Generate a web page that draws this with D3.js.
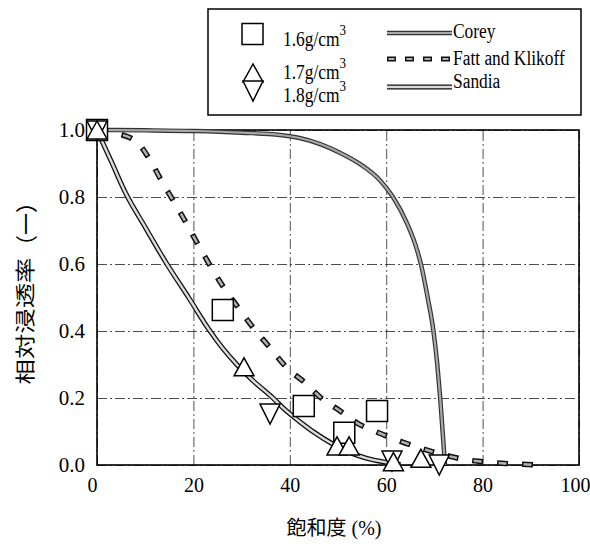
<!DOCTYPE html>
<html>
<head>
<meta charset="utf-8">
<script src="https://cdn.jsdelivr.net/npm/d3@7"></script>
<style>
  body { margin: 0; background: #fff; }
  svg { display: block; }
</style>
</head>
<body>
<div id="chart"></div>
<script>
const width = 590
const height = 546

// tick values
const xTicks = [0, 20, 40, 60, 80, 100]
const yTicks = [0, 0.2, 0.4, 0.6, 0.8, 1.0]

// measured points, [saturation %, relative permeability]
const rho16 = [[0, 1], [26.1, 0.463], [42.9, 0.176], [51.3, 0.096], [58.1, 0.161]]
const rho17 = [[0, 1], [30.5, 0.293], [49.8, 0.057], [52.3, 0.057], [61.5, 0.01], [67.2, 0.02]]
const rho18 = [[0, 1], [35.9, 0.155], [61.2, 0.015], [71, 0.003]]

// model curves
const corey = [[0, 1], [10, 0.999], [20, 0.997], [30, 0.992], [38, 0.985], [42, 0.976], [46.3, 0.958],
  [50.4, 0.932], [54.6, 0.898], [58.7, 0.85], [61.4, 0.8], [64.3, 0.722], [66, 0.66], [67.2, 0.6],
  [68.6, 0.5], [69.8, 0.4], [70.6, 0.3], [71.2, 0.2], [71.7, 0.1], [72.2, 0]]
const fatt = [[0, 1], [4, 0.99], [8.3, 0.964], [11.4, 0.9], [13.7, 0.84], [16.2, 0.78], [18.6, 0.72],
  [21, 0.657], [23.4, 0.597], [26.1, 0.534], [29.3, 0.47], [32.4, 0.41], [35.9, 0.35], [39.4, 0.29],
  [43.2, 0.245], [46.5, 0.2], [50.6, 0.16], [54, 0.125], [58.3, 0.097], [62, 0.076], [65.5, 0.058],
  [69.5, 0.04], [73.5, 0.025], [76.8, 0.015], [80, 0.01], [84, 0.005], [87.3, 0.003], [91.3, 0]]
const sandia = [[0, 1], [3, 0.905], [6, 0.81], [10, 0.71], [14.5, 0.6], [19, 0.5], [23.2, 0.405],
  [26, 0.35], [29, 0.3], [32.5, 0.25], [36.5, 0.2], [39, 0.165], [42, 0.13], [45, 0.098], [49, 0.062],
  [52.5, 0.037], [56, 0.02], [60, 0.008], [63, 0.001]]

const densityLabels = ["1.6g/cm", "1.7g/cm", "1.8g/cm"]
const modelLabels = ["Corey", "Fatt and Klikoff", "Sandia"]

const svg = d3.select("#chart").append("svg")
  .attr("width", width)
  .attr("height", height)

const x = d3.scaleLinear().domain([0, 100]).range([97, 579])
const y = d3.scaleLinear().domain([0, 1]).range([465, 130])

const serif = "'Liberation Serif', 'Times New Roman', serif"
const gothic = "'Noto Sans CJK JP', 'Noto Sans', sans-serif"

// grid + tick labels
const gx = svg.append("g")
  .attr("transform", `translate(0,${y(0)})`)
  .call(d3.axisBottom(x).tickValues(xTicks).tickSize(-(y(0) - y(1))).tickPadding(13).tickFormat(d3.format("d")))
gx.attr("font-family", serif)
gx.select(".domain").remove()
gx.selectAll("line")
  .attr("stroke", "#222")
  .attr("stroke-width", 0.8)
  .attr("stroke-dasharray", "10,3,2,3")
gx.selectAll("text")
  .attr("font-family", serif)
  .attr("font-size", 20)
  .attr("fill", "#000")
  .attr("dx", d => d === 0 ? -5 : d === 100 ? -4 : 0)

const gy = svg.append("g")
  .attr("transform", `translate(${x(0)},0)`)
  .call(d3.axisLeft(y).tickValues(yTicks).tickSize(-(x(100) - x(0))).tickPadding(12).tickFormat(d3.format(".1f")))
gy.attr("font-family", serif)
gy.select(".domain").remove()
gy.selectAll("line")
  .attr("stroke", "#222")
  .attr("stroke-width", 0.8)
  .attr("stroke-dasharray", "10,3,2,3")
gy.selectAll("text")
  .attr("font-family", serif)
  .attr("font-size", 21)
  .attr("fill", "#000")

// frame
svg.append("rect")
  .attr("x", x(0))
  .attr("y", y(1))
  .attr("width", x(100) - x(0))
  .attr("height", y(0) - y(1))
  .attr("fill", "none")
  .attr("stroke", "#000")
  .attr("stroke-width", 1.6)

const line = d3.line()
  .x(d => x(d[0]))
  .y(d => y(d[1]))
  .curve(d3.curveMonotoneX)

const curves = svg.append("g")

// Corey : grey line with dark edges
curves.append("path").attr("d", line(corey))
  .attr("fill", "none").attr("stroke", "#333").attr("stroke-width", 4.5)
curves.append("path").attr("d", line(corey))
  .attr("fill", "none").attr("stroke", "#a8a8a8").attr("stroke-width", 2.2)

// Fatt and Klikoff : outlined dashes
curves.append("path").attr("d", line(fatt))
  .attr("fill", "none").attr("stroke", "#111").attr("stroke-width", 5.5)
  .attr("stroke-dasharray", "11,14")
curves.append("path").attr("d", line(fatt))
  .attr("fill", "none").attr("stroke", "#b0b0b0").attr("stroke-width", 2.5)
  .attr("stroke-dasharray", "8,17").attr("stroke-dashoffset", -1.5)

// Sandia : double line, pale inside
curves.append("path").attr("d", line(sandia))
  .attr("fill", "none").attr("stroke", "#111").attr("stroke-width", 5)
curves.append("path").attr("d", line(sandia))
  .attr("fill", "none").attr("stroke", "#dcdcdc").attr("stroke-width", 2.4)

// marker shapes
const square = (cx, cy) => `M${cx - 10.5},${cy - 10.5}h21v21h-21Z`
const triUp = (cx, cy) => `M${cx - 10},${cy + 9}L${cx},${cy - 9}L${cx + 10},${cy + 9}Z`
const triDown = (cx, cy) => `M${cx - 10},${cy - 9}L${cx},${cy + 11}L${cx + 10},${cy - 9}Z`

const markers = svg.append("g")
  .attr("fill", "#fff")
  .attr("stroke", "#000")
  .attr("stroke-width", 1.5)

markers.selectAll(".sq").data(rho16).join("path")
  .attr("class", "sq")
  .attr("d", d => square(x(d[0]), y(d[1])))
markers.selectAll(".dn").data(rho18).join("path")
  .attr("class", "dn")
  .attr("d", d => triDown(x(d[0]), y(d[1])))
markers.selectAll(".up").data(rho17).join("path")
  .attr("class", "up")
  .attr("d", d => triUp(x(d[0]), y(d[1])))

// legend
const legend = svg.append("g")
legend.append("rect")
  .attr("x", 208).attr("y", 9)
  .attr("width", 373).attr("height", 106)
  .attr("fill", "#fff").attr("stroke", "#000").attr("stroke-width", 1.5)

const legMarks = legend.append("g")
  .attr("fill", "#fff").attr("stroke", "#000").attr("stroke-width", 1.5)
legMarks.append("path").attr("d", square(252.5, 34))
legMarks.append("path").attr("d", triUp(253, 73))
legMarks.append("path").attr("d", triDown(253, 90))

const densBase = [46, 79, 102]
densityLabels.forEach((t, i) => {
  const txt = legend.append("text")
    .attr("transform", `translate(283,${densBase[i]}) scale(0.87,1)`)
    .attr("font-family", serif)
    .attr("font-size", 20)
    .attr("fill", "#000")
  txt.append("tspan").text(t)
  txt.append("tspan").attr("font-size", 15).attr("dy", -11).text("3")
})

const lineY = [33, 59, 87]
const textBase = [38, 65, 88]
legend.append("line").attr("x1", 387).attr("x2", 452).attr("y1", lineY[0]).attr("y2", lineY[0])
  .attr("stroke", "#333").attr("stroke-width", 4.5)
legend.append("line").attr("x1", 387).attr("x2", 452).attr("y1", lineY[0]).attr("y2", lineY[0])
  .attr("stroke", "#a8a8a8").attr("stroke-width", 2.2)
legend.append("line").attr("x1", 387).attr("x2", 452).attr("y1", lineY[1]).attr("y2", lineY[1])
  .attr("stroke", "#111").attr("stroke-width", 5).attr("stroke-dasharray", "9,9")
legend.append("line").attr("x1", 388.5).attr("x2", 452).attr("y1", lineY[1]).attr("y2", lineY[1])
  .attr("stroke", "#b0b0b0").attr("stroke-width", 2).attr("stroke-dasharray", "6,12")
legend.append("line").attr("x1", 387).attr("x2", 452).attr("y1", lineY[2]).attr("y2", lineY[2])
  .attr("stroke", "#111").attr("stroke-width", 5)
legend.append("line").attr("x1", 387).attr("x2", 452).attr("y1", lineY[2]).attr("y2", lineY[2])
  .attr("stroke", "#dcdcdc").attr("stroke-width", 2.4)

modelLabels.forEach((t, i) => {
  legend.append("text")
    .attr("transform", `translate(453,${textBase[i]}) scale(0.87,1)`)
    .attr("font-family", serif)
    .attr("font-size", 20)
    .attr("fill", "#000")
    .text(t)
})

// axis titles
const xTitle = svg.append("text")
  .attr("x", 334).attr("y", 535)
  .attr("text-anchor", "middle")
  .attr("fill", "#000")
xTitle.append("tspan").attr("font-family", gothic).attr("font-size", 20).text("飽和度")
xTitle.append("tspan").attr("font-family", serif).attr("font-size", 20).text(" (%)")

svg.append("text")
  .attr("transform", "translate(24,321) rotate(-90)")
  .attr("text-anchor", "middle")
  .attr("dominant-baseline", "central")
  .attr("font-family", gothic)
  .attr("font-size", 20)
  .attr("textLength", 127)
  .attr("lengthAdjust", "spacingAndGlyphs")
  .attr("fill", "#000")
  .text("相対浸透率")
svg.append("text")
  .attr("transform", "translate(24,224) rotate(-90)")
  .attr("text-anchor", "middle")
  .attr("dominant-baseline", "central")
  .attr("font-family", gothic)
  .attr("font-size", 22)
  .attr("fill", "#000")
  .text("（一）")
</script>
</body>
</html>
